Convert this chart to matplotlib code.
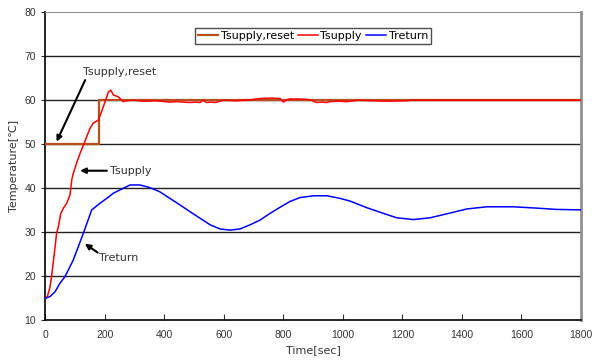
import matplotlib
matplotlib.use('Agg')
import matplotlib.pyplot as plt

plt.rcParams['font.family'] = ['DejaVu Sans', 'Noto Sans CJK KR']

# Tsupply,reset (step)
reset_t = [0, 180, 180, 1800]
reset_T = [50, 50, 60, 60]

# Tsupply
sup_t = [0, 7, 16, 21, 27, 33, 38, 44, 52, 61, 72, 83, 89, 94, 105, 117, 128,
         139, 150, 161, 178, 189, 201, 212, 220, 229, 245, 262, 273, 296, 330,
         370, 419, 440, 464, 486, 505, 520, 530, 542, 557, 570, 600, 640, 688,
         720, 760, 789, 800, 810, 822, 850, 878, 895, 911, 930, 945, 956, 985,
         1012, 1050, 1100, 1150, 1211, 1230, 1800]
sup_T = [15, 15.4, 17.6, 19.9, 23.3, 26.7, 29.8, 31.3, 34.3, 35.5, 36.6, 38.5,
         41.9, 43.4, 45.7, 48, 49.8, 51.7, 53.6, 54.8, 55.5, 57.4, 59.7, 61.9,
         62.3, 61.2, 60.8, 59.7, 59.9, 60, 59.8, 59.9, 59.6, 59.7, 59.6, 59.5,
         59.6, 59.5, 60, 59.5, 59.6, 59.5, 60, 59.9, 60.1, 60.4, 60.5, 60.4,
         59.6, 60.1, 60.3, 60.3, 60.2, 60, 59.5, 59.6, 59.5, 59.7, 59.8, 59.7,
         60, 59.9, 59.8, 59.9, 60, 60]

# Treturn
ret_t = [0, 16, 33, 49, 66, 94, 128, 156, 184, 206, 229, 262, 285, 318, 352,
         385, 419, 453, 486, 520, 554, 587, 621, 654, 688, 722, 755, 789, 822,
         856, 901, 946, 991, 1024, 1080, 1136, 1181, 1237, 1293, 1349, 1416,
         1483, 1573, 1651, 1718, 1800]
ret_T = [15, 15.4, 16.5, 18.4, 19.9, 23.7, 29.8, 35.1, 36.6, 37.7, 38.9, 40,
         40.76, 40.76, 40.15, 39.2, 37.7, 36.2, 34.7, 33.2, 31.7, 30.76, 30.5,
         30.76, 31.7, 32.8, 34.3, 35.7, 37, 37.9, 38.3, 38.3, 37.7, 37.1, 35.6,
         34.3, 33.3, 32.9, 33.3, 34.2, 35.3, 35.8, 35.8, 35.5, 35.2, 35.1]

fig = plt.figure(figsize=(5.95, 3.63), dpi=100)
ax = fig.add_axes([0.0761, 0.1176, 0.9004, 0.8485])

for y in range(20, 80, 10):
    ax.axhline(y, color='#202020', lw=1.0, zorder=1)

ax.plot(reset_t, reset_T, color='#B8501E', lw=1.6, label='Tsupply,reset', zorder=3)
ax.plot(sup_t, sup_T, color='#FF0000', lw=1.1, label='Tsupply', zorder=4)
ax.plot(ret_t, ret_T, color='#0000FF', lw=1.1, label='Treturn', zorder=4)

ax.set_xlim(0, 1800)
ax.set_ylim(10, 80)
ax.set_xticks(range(0, 1801, 200))
ax.set_yticks(range(10, 81, 10))
ax.tick_params(axis='x', direction='in', length=4, labelsize=7.5, colors='#333333', pad=7)
ax.tick_params(axis='y', direction='out', length=3, labelsize=7.5, colors='#333333')
for lab in ax.get_xticklabels() + ax.get_yticklabels():
    lab.set_family('Liberation Sans')
for side in ['top', 'right']:
    ax.spines[side].set_color('#909090')
ax.spines['right'].set_linewidth(2)
ax.spines['left'].set_linewidth(1.2)
ax.spines['bottom'].set_linewidth(1.2)

ax.set_xlabel('Time[sec]', fontsize=8, color='#333333', labelpad=4)
ax.set_ylabel('Temperature[℃]', fontsize=8, color='#333333', labelpad=4)

leg = ax.legend(loc='upper center', bbox_to_anchor=(0.5, 0.95), ncol=3,
                fontsize=8, frameon=True, fancybox=False, handlelength=1.8,
                handletextpad=0.2, columnspacing=0.4, borderpad=0.3,
                borderaxespad=0)
leg.get_frame().set_edgecolor('#202020')
leg.get_frame().set_linewidth(1.0)

# annotations
arrow = dict(arrowstyle='-|>', color='black', lw=1.5, mutation_scale=8,
             shrinkA=0, shrinkB=0)
ax.text(251, 66.5, 'Tsupply,reset', fontsize=8, color='#333333',
        ha='center', va='center')
ax.annotate('', xy=(38, 50.6), xytext=(134, 64.6), arrowprops=arrow)
ax.text(218, 44.0, 'Tsupply', fontsize=8, color='#333333', ha='left', va='center')
ax.annotate('', xy=(117, 44.0), xytext=(207, 44.0), arrowprops=arrow)
ax.text(180, 24.2, 'Treturn', fontsize=8, color='#333333', ha='left', va='center')
ax.annotate('', xy=(133, 27.4), xytext=(176, 25.4), arrowprops=arrow)

fig.savefig('out.png', dpi=100)
